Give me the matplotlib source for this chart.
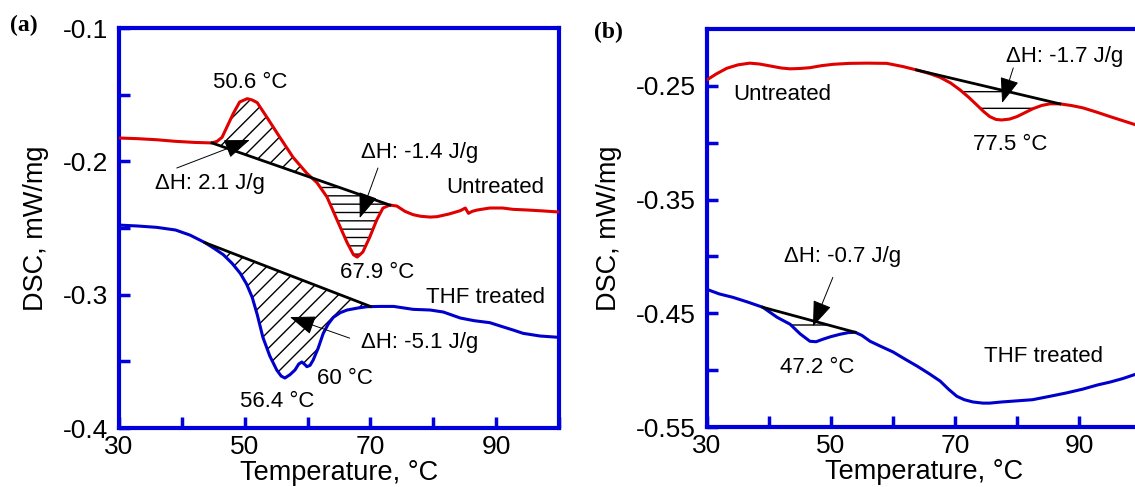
import numpy as np
import matplotlib.pyplot as plt
from matplotlib.ticker import FixedFormatter, FixedLocator

plt.rcParams["font.family"] = ["Liberation Sans", "DejaVu Sans"]
plt.rcParams["axes.unicode_minus"] = False
plt.rcParams["hatch.linewidth"] = 1.0

# ---- panel (a) data ----
a_red_t = [30, 33, 36, 39, 42, 44.8, 45.6, 46.4, 47.2, 48.2, 49.2, 50.4, 51.2, 52,
           53.5, 55.6, 57.7, 59.9, 61.5, 63.1, 64.7, 66.3, 67.3, 67.9, 68.8, 69.9,
           71, 72, 73.1, 74.2, 75.5, 76.8, 78, 79.5, 80.6, 82.5, 84.3, 85.1, 85.6,
           86.2, 87, 89, 91, 92.7, 95, 97.5, 100]
a_red_v = [-0.1825, -0.1830, -0.1838, -0.1850, -0.1858, -0.1862, -0.1850, -0.1820,
           -0.1740, -0.1640, -0.1555, -0.1530, -0.1540, -0.1560, -0.1667, -0.1820,
           -0.1970, -0.2090, -0.2160, -0.2268, -0.2440, -0.2610, -0.2700, -0.2718,
           -0.2680, -0.2568, -0.2440, -0.2350, -0.2328, -0.2335, -0.2375, -0.2400,
           -0.2412, -0.2418, -0.2415, -0.2395, -0.2370, -0.2350, -0.2390, -0.2375,
           -0.2365, -0.2350, -0.2350, -0.2360, -0.2365, -0.2372, -0.2380]
a_blue_t = [30, 33, 36, 39, 41.3, 43.7, 45.2, 46.6, 48, 49.3, 50.3, 51.2, 52, 52.9,
            54, 55.1, 55.8, 56.4, 57.2, 58, 58.6, 59.1, 59.6, 59.9, 60.4, 60.9, 61.7,
            62.5, 63.3, 64.1, 65.2, 66.3, 68, 69.5, 71.6, 73.7, 76.8, 79.5, 81.6,
            84.3, 86.5, 89, 91, 92.7, 94.3, 97, 100]
a_blue_v = [-0.2478, -0.2485, -0.2495, -0.2515, -0.2553, -0.2610, -0.2655, -0.2700,
            -0.2765, -0.2840, -0.2920, -0.3020, -0.3150, -0.3320, -0.3460, -0.3565,
            -0.3610, -0.3625, -0.3600, -0.3565, -0.3520, -0.3505, -0.3525, -0.3540,
            -0.3530, -0.3490, -0.3400, -0.3290, -0.3220, -0.3170, -0.3135, -0.3115,
            -0.3100, -0.3090, -0.3088, -0.3088, -0.3110, -0.3115, -0.3130, -0.3175,
            -0.3195, -0.3210, -0.3240, -0.3265, -0.3290, -0.3310, -0.3320]
a_red_base = ([44.8, 73.1], [-0.1862, -0.2328])
a_blue_base = ([43.7, 70.0], [-0.2610, -0.3088])

# ---- panel (b) data ----
b_red_t = [30, 31.5, 33.2, 35, 36.9, 38.5, 40.2, 42, 43.4, 45, 46.6, 48.5, 50.4, 53,
           55.8, 59, 61.6, 63.8, 65.8, 67.6, 69.3, 70.8, 72.2, 73.5, 74.6, 75.6,
           76.6, 77.5, 78.8, 80, 81.3, 82.6, 84, 85.3, 86.9, 88.8, 90.6, 92.8, 95,
           97, 99, 100]
b_red_v = [-0.2447, -0.2395, -0.2345, -0.2315, -0.2300, -0.2308, -0.2325, -0.2343,
           -0.2350, -0.2347, -0.2340, -0.2322, -0.2310, -0.2302, -0.2300, -0.2302,
           -0.2330, -0.2360, -0.2390, -0.2425, -0.2475, -0.2535, -0.2600, -0.2667,
           -0.2725, -0.2770, -0.2795, -0.2800, -0.2792, -0.2770, -0.2735, -0.2700,
           -0.2672, -0.2658, -0.2658, -0.2673, -0.2693, -0.2730, -0.2770, -0.2805,
           -0.2840, -0.2855]
b_blue_t = [30, 32, 34.2, 36.5, 39, 41.3, 43.4, 45, 46.6, 47.6, 48.7, 50, 51.5, 52.8,
            53.9, 55, 56.3, 58, 60, 62, 63.9, 65.8, 67.6, 69, 70.3, 71.5, 72.9, 74.5,
            75.6, 77.5, 80, 82.5, 85.3, 88, 90.6, 93, 95, 97, 98.7, 100]
b_blue_v = [-0.4290, -0.4330, -0.4360, -0.4400, -0.4447, -0.4535, -0.4596, -0.4680,
            -0.4746, -0.4750, -0.4728, -0.4705, -0.4684, -0.4670, -0.4667, -0.4695,
            -0.4746, -0.4790, -0.4840, -0.4905, -0.4965, -0.5030, -0.5096, -0.5170,
            -0.5230, -0.5260, -0.5280, -0.5290, -0.5290, -0.5280, -0.5270, -0.5260,
            -0.5230, -0.5200, -0.5167, -0.5130, -0.5105, -0.5075, -0.5044, -0.5020]
b_red_base = ([63.8, 86.9], [-0.2360, -0.2658])
b_blue_base = ([39.0, 53.9], [-0.4447, -0.4667])

x_ticks = [30, 40, 50, 60, 70, 80, 90, 100]
x_labels = ["30", "", "50", "", "70", "", "90", ""]

RED = "#e00000"
BLUE = "#0000cc"
SPINE = "#0000dd"
FS = 16
ARROW = dict(arrowstyle="-|>,head_length=0.8,head_width=0.3", color="black",
             lw=0.7, mutation_scale=20, shrinkA=0, shrinkB=0)


def hatch_area(ax, t, v, base, hatch, above):
    t = np.array(t)
    v = np.array(v)
    b = np.interp(t, base[0], base[1])
    inside = (t >= base[0][0]) & (t <= base[0][1])
    mask = inside & ((v >= b) if above else (v <= b))
    ax.fill_between(t, v, b, where=mask, interpolate=True, facecolor="none",
                    edgecolor="black", hatch=hatch, linewidth=0, zorder=1)


def style_axes(ax, ylim, yticks, ylabels):
    ax.set_xlim(30, 100)
    ax.set_ylim(*ylim)
    ax.xaxis.set_major_locator(FixedLocator(x_ticks))
    ax.xaxis.set_major_formatter(FixedFormatter(x_labels))
    ax.yaxis.set_major_locator(FixedLocator(yticks))
    ax.yaxis.set_major_formatter(FixedFormatter(ylabels))
    for s in ax.spines.values():
        s.set_color(SPINE)
        s.set_linewidth(3)
    ax.tick_params(direction="in", length=8, width=2.5, color=SPINE,
                   labelsize=19, top=False, right=False)
    ax.tick_params(axis="y", pad=8)
    ax.tick_params(axis="x", pad=5)
    ax.set_xlabel("Temperature, °C", fontsize=19.5, labelpad=1)
    ax.set_ylabel("DSC, mW/mg", fontsize=19.5, labelpad=10)


fig = plt.figure(figsize=(11.35, 4.87), dpi=100)
ax1 = fig.add_axes([0.1048, 0.1211, 0.3877, 0.8214])
ax2 = fig.add_axes([0.6229, 0.1232, 0.3824, 0.8172])

# panel (a)
style_axes(ax1, (-0.4, -0.1), [-0.4, -0.35, -0.3, -0.25, -0.2, -0.15, -0.1],
           ["-0.4", "", "-0.3", "", "-0.2", "", "-0.1"])
hatch_area(ax1, a_red_t, a_red_v, a_red_base, "//", True)
hatch_area(ax1, a_red_t, a_red_v, a_red_base, "--", False)
hatch_area(ax1, a_blue_t, a_blue_v, a_blue_base, "//", False)
ax1.plot(a_red_t, a_red_v, color=RED, lw=2.2, zorder=3)
ax1.plot(a_blue_t, a_blue_v, color=BLUE, lw=2.2, zorder=3)
ax1.plot(*a_red_base, color="black", lw=2.0, zorder=4)
ax1.plot(*a_blue_base, color="black", lw=2.0, zorder=4)

ax1.text(50.8, -0.1405, "50.6 °C", fontsize=FS, ha="center", va="center")
ax1.text(44.4, -0.2163, "ΔH: 2.1 J/g", fontsize=FS, ha="center", va="center")
ax1.text(77.9, -0.1930, "ΔH: -1.4 J/g", fontsize=FS, ha="center", va="center")
ax1.text(97.6, -0.2193, "Untreated", fontsize=FS, ha="right", va="center")
ax1.text(71.0, -0.2830, "67.9 °C", fontsize=FS, ha="center", va="center")
ax1.text(97.8, -0.3018, "THF treated", fontsize=FS, ha="right", va="center")
ax1.text(77.9, -0.3356, "ΔH: -5.1 J/g", fontsize=FS, ha="center", va="center")
ax1.text(66.0, -0.3626, "60 °C", fontsize=FS, ha="center", va="center")
ax1.text(55.1, -0.3800, "56.4 °C", fontsize=FS, ha="center", va="center")
ax1.annotate("", xy=(50.8, -0.184), xytext=(39.2, -0.205), arrowprops=ARROW, zorder=5)
ax1.annotate("", xy=(68.3, -0.2425), xytext=(71.2, -0.205), arrowprops=ARROW, zorder=5)
ax1.annotate("", xy=(57.2, -0.3168), xytext=(66.7, -0.3326), arrowprops=ARROW, zorder=5)

# panel (b)
style_axes(ax2, (-0.55, -0.2), [-0.55, -0.5, -0.45, -0.4, -0.35, -0.3, -0.25],
           ["-0.55", "", "-0.45", "", "-0.35", "", "-0.25"])
hatch_area(ax2, b_red_t, b_red_v, b_red_base, "-", False)
hatch_area(ax2, b_blue_t, b_blue_v, b_blue_base, "-", False)
ax2.plot(b_red_t, b_red_v, color=RED, lw=2.2, zorder=3)
ax2.plot(b_blue_t, b_blue_v, color=BLUE, lw=2.2, zorder=3)
ax2.plot(*b_red_base, color="black", lw=2.0, zorder=4)
ax2.plot(*b_blue_base, color="black", lw=2.0, zorder=4)

ax2.text(87.6, -0.2246, "ΔH: -1.7 J/g", fontsize=FS, ha="center", va="center")
ax2.text(34.2, -0.2579, "Untreated", fontsize=FS, ha="left", va="center")
ax2.text(78.9, -0.3018, "77.5 °C", fontsize=FS, ha="center", va="center")
ax2.text(51.8, -0.4000, "ΔH: -0.7 J/g", fontsize=FS, ha="center", va="center")
ax2.text(47.7, -0.4974, "47.2 °C", fontsize=FS, ha="center", va="center")
ax2.text(84.2, -0.4877, "THF treated", fontsize=FS, ha="center", va="center")
ax2.annotate("", xy=(77.6, -0.265), xytext=(79.4, -0.2342), arrowprops=ARROW, zorder=5)
ax2.annotate("", xy=(47.1, -0.4614), xytext=(50.3, -0.4184), arrowprops=ARROW, zorder=5)

fig.text(24 / 1135, 1 - 25 / 487, "(a)", fontsize=17, fontweight="bold",
         family="Liberation Serif", ha="center", va="center")
fig.text(608 / 1135, 1 - 32 / 487, "(b)", fontsize=17, fontweight="bold",
         family="Liberation Serif", ha="center", va="center")

fig.savefig("out.png", dpi=100)
